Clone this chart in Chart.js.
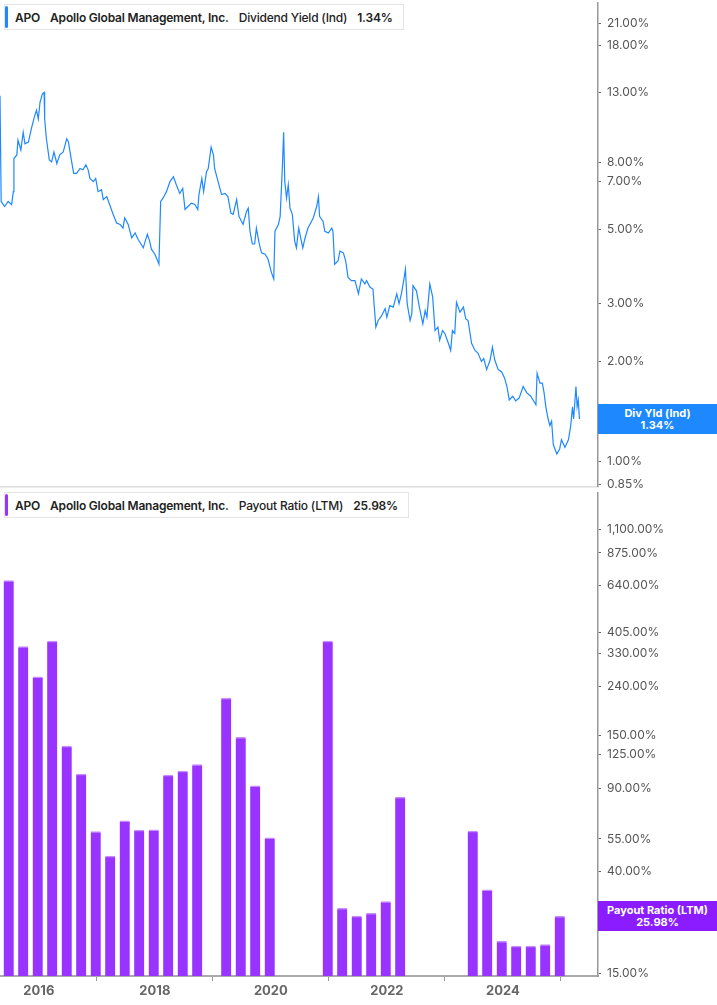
<!DOCTYPE html>
<html>
<head>
<meta charset="utf-8">
<script src="https://cdn.jsdelivr.net/npm/chart.js@4"></script>
<style>
  body { margin: 0; background: #fff; font-family: Inter, "Noto Sans", sans-serif; }
  #wrap { position: relative; width: 717px; height: 1005px; overflow: hidden; }
  .panel { position: absolute; left: 0; width: 717px; }
  .hdr { position: absolute; left: 4px; height: 26px; border: 1px solid #e4e4e4; background: #fff;
         font-size: 12px; font-weight: 600; color: #222; display: flex; align-items: center;
         white-space: nowrap; padding-right: 10px; box-sizing: border-box; z-index: 2; letter-spacing: -0.2px; }
  .hdr .bar { width: 3px; height: 22px; border-radius: 2px; margin: 0 7px 0 0; }
  .hdr span { margin-right: 10px; }
  .tag { position: absolute; left: 598px; width: 119px; color: #fff; font-size: 11px; font-weight: 700;
         text-align: center; line-height: 12px; padding: 3px 0; z-index: 2; }
</style>
</head>
<body>
<div id="wrap">
  <div class="panel" style="top:-10px;height:510px"><canvas id="yieldChart" width="717" height="510"></canvas></div>
  <div class="panel" style="top:480px;height:528px"><canvas id="payoutChart" width="717" height="528"></canvas></div>
  <div class="hdr" style="top:4px"><div class="bar" style="background:#1e88ff"></div>
    <span>APO</span><span>Apollo Global Management, Inc.</span><span style="font-weight:500">Dividend Yield (Ind)</span><span style="margin-right:0">1.34%</span></div>
  <div class="hdr" style="top:492px"><div class="bar" style="background:#9933ff"></div>
    <span>APO</span><span>Apollo Global Management, Inc.</span><span style="font-weight:500">Payout Ratio (LTM)</span><span style="margin-right:0">25.98%</span></div>
  <div class="tag" style="top:404px;background:#1e88ff">Div Yld (Ind)<br>1.34%</div>
  <div class="tag" style="top:901px;background:#8a1cff">Payout Ratio (LTM)<br>25.98%</div>
</div>
<script>
// dividend yield (%), dates as decimal years
const yieldDates = [2015.33,2015.35,2015.41,2015.47,2015.53,2015.56,2015.57,2015.62,2015.64,2015.69,2015.73,2015.76,2015.82,2015.87,2015.93,2015.96,2015.99,
  2016.02,2016.06,2016.09,2016.10,2016.13,2016.18,2016.22,2016.26,2016.31,2016.36,2016.42,2016.48,2016.51,2016.56,2016.60,2016.65,2016.71,2016.76,2016.81,2016.85,2016.88,2016.94,2016.98,
  2017.02,2017.08,2017.11,2017.17,2017.22,2017.28,2017.34,2017.40,2017.45,2017.48,2017.54,2017.60,2017.66,2017.71,2017.80,2017.87,2017.91,2017.94,
  2018.00,2018.06,2018.07,2018.10,2018.14,2018.20,2018.26,2018.32,2018.37,2018.43,2018.48,2018.52,2018.57,2018.63,2018.69,2018.74,2018.76,2018.81,2018.84,2018.89,2018.92,2018.97,
  2019.01,2019.03,2019.09,2019.15,2019.21,2019.26,2019.31,2019.35,2019.41,2019.45,2019.52,2019.58,2019.61,2019.64,2019.68,2019.72,2019.75,2019.80,2019.84,2019.90,2019.95,
  2020.01,2020.05,2020.07,2020.13,2020.16,2020.20,2020.22,2020.24,2020.27,2020.30,2020.33,2020.37,2020.41,2020.44,2020.48,2020.55,2020.59,2020.64,2020.70,2020.73,2020.79,2020.82,2020.84,2020.90,2020.93,2020.99,
  2021.05,2021.07,2021.10,2021.16,2021.19,2021.25,2021.29,2021.33,2021.39,2021.45,2021.51,2021.56,2021.62,2021.65,2021.71,2021.76,2021.81,2021.85,2021.91,2021.97,
  2022.00,2022.05,2022.11,2022.17,2022.21,2022.25,2022.29,2022.32,2022.35,2022.40,2022.43,2022.45,2022.51,2022.56,2022.62,2022.66,2022.69,2022.74,2022.79,2022.83,2022.88,2022.91,2022.96,
  2023.00,2023.06,2023.10,2023.13,2023.17,2023.20,2023.26,2023.32,2023.36,2023.40,2023.46,2023.52,2023.57,2023.63,2023.67,2023.72,2023.78,2023.82,2023.86,2023.92,2023.98,
  2024.03,2024.07,2024.11,2024.17,2024.22,2024.28,2024.35,2024.41,2024.48,2024.52,2024.57,2024.59,2024.64,2024.68,2024.71,2024.74,2024.78,2024.81,2024.84,2024.87,2024.93,2024.98,
  2025.01,2025.07,2025.13,2025.17,2025.20,2025.22,2025.26,2025.28,2025.30,2025.32];
const yieldValues = [12.7,6.09,5.88,6.09,5.96,6.52,8.21,8.42,9.33,8.71,9.86,9.10,9.21,10.09,11.09,11.48,10.81,
  12.13,12.85,13.0,10.81,9.42,8.13,8.02,8.59,7.93,8.42,8.59,9.42,9.21,8.13,7.40,7.40,7.66,7.59,7.86,7.59,7.15,6.99,7.15,
  6.52,6.61,6.17,6.30,5.96,5.57,5.24,5.19,5.06,5.43,5.19,4.73,4.89,4.68,4.41,4.85,4.62,4.37,
  4.22,3.98,3.94,6.09,6.23,6.52,6.99,7.23,6.84,6.44,6.67,5.76,5.88,6.02,5.96,5.76,6.39,7.15,6.52,7.49,7.66,8.89,
  8.42,7.66,6.99,6.39,6.44,6.30,5.62,5.57,6.17,5.49,5.19,5.68,5.81,4.95,4.53,4.53,5.06,4.53,4.26,4.22,4.08,
  3.71,3.55,4.95,5.19,5.49,7.86,9.86,6.99,6.23,6.84,5.81,5.57,4.63,4.41,5.06,4.41,4.73,5.06,5.30,5.43,5.88,6.30,5.49,5.30,4.95,4.89,
  5.06,4.95,3.93,4.03,4.31,4.26,4.03,3.59,3.51,3.51,3.20,3.55,3.43,3.51,3.35,3.31,2.54,2.66,2.75,2.89,
  2.72,2.95,2.92,3.20,2.99,3.20,3.51,3.80,2.99,2.66,2.79,3.39,3.27,2.92,2.60,2.85,2.72,3.43,3.13,2.48,2.54,2.32,2.48,
  2.43,2.27,2.16,2.48,2.43,3.02,2.82,2.92,2.69,2.66,2.27,2.16,2.12,2.00,2.04,1.89,2.02,2.21,2.02,1.89,1.86,
  1.78,1.68,1.53,1.57,1.52,1.55,1.68,1.61,1.57,1.53,1.48,1.84,1.72,1.72,1.61,1.46,1.34,1.28,1.32,1.12,1.05,1.09,
  1.16,1.10,1.16,1.28,1.46,1.34,1.68,1.46,1.53,1.34];
const yieldTicks = [0.85, 1, 2, 3, 5, 7, 8, 13, 18, 21];

// payout ratio LTM (%), quarterly
const payoutDates = [2015.48,2015.73,2015.98,2016.23,2016.48,2016.73,2016.98,2017.23,2017.48,2017.73,2017.98,2018.23,2018.48,2018.73,2018.98,
  2019.23,2019.48,2019.73,2019.98,2020.23,2020.48,2020.73,2020.98,2021.23,2021.48,2021.73,2021.98,2022.23,2022.48,2022.73,2022.98,2023.23,
  2023.48,2023.73,2023.98,2024.23,2024.48,2024.73,2024.98];
const payoutValues = [670,354,264,373,135,103,59,46.6,65.5,59.9,60,102,106,113,null,
  215,147,92,55.6,null,null,null,373,28.1,26.1,26.8,30,82.5,null,null,null,null,
  59.3,33.6,20.4,19.5,19.5,19.8,25.98];
const payoutTicks = [15, 25, 40, 55, 90, 125, 150, 240, 330, 405, 640, 875, 1100];
const yearTicks = [2016, 2018, 2020, 2022, 2024];

const X_MIN = 2015.33, X_MAX = 2025.64;
const tickFont = { family: "Inter, 'Noto Sans', sans-serif", size: 12 };
const fmt = v => Number(v).toLocaleString("en-US", { minimumFractionDigits: 2, maximumFractionDigits: 2 }) + "%";

function yAxis(min, max, ticks) {
  return {
    type: "logarithmic", position: "right", min, max,
    afterBuildTicks: s => { s.ticks = ticks.map(v => ({ value: v })); },
    afterFit: s => { s.width = 119; },
    ticks: { callback: fmt, color: "#555", font: tickFont, padding: 6, autoSkip: false },
    grid: { display: true, drawOnChartArea: false, tickLength: 3, color: "#666" },
    border: { color: "#999", width: 1.5 },
  };
}

new Chart(document.getElementById("yieldChart"), {
  type: "line",
  data: {
    datasets: [{
      data: yieldDates.map((d, i) => ({ x: d, y: yieldValues[i] })),
      borderColor: "#1e88ff", borderWidth: 1.2, pointRadius: 0, tension: 0, fill: false,
    }],
  },
  options: {
    responsive: false, animation: false,
    layout: { padding: 0 },
    plugins: { legend: { display: false }, tooltip: { enabled: false } },
    scales: {
      x: { type: "linear", min: X_MIN, max: X_MAX, ticks: { display: false },
           grid: { display: false }, border: { color: "#ddd", width: 1.5 } },
      y: yAxis(0.836, 24.2, yieldTicks),
    },
  },
});

new Chart(document.getElementById("payoutChart"), {
  type: "bar",
  data: {
    datasets: [{
      data: payoutDates.map((d, i) => ({ x: d, y: payoutValues[i] })),
      backgroundColor: "#9933ff", borderColor: "#c68cff", borderWidth: { top: 1.5 }, barThickness: 10,
    }],
  },
  options: {
    responsive: false, animation: false,
    layout: { padding: { top: 0, bottom: 2 } },
    plugins: { legend: { display: false }, tooltip: { enabled: false } },
    scales: {
      x: { type: "linear", min: X_MIN, max: X_MAX, offset: false,
           afterBuildTicks: s => { s.ticks = yearTicks.map(v => ({ value: v })); },
           afterFit: s => { s.height = 30; },
           ticks: { callback: v => String(v), color: "#666", font: { ...tickFont, size: 13, weight: "bold" }, padding: 2 },
           grid: { display: true, drawOnChartArea: false, tickLength: 5, color: "#999" },
           border: { color: "#aaa", width: 2 } },
      y: yAxis(14.6, 1560, payoutTicks),
    },
  },
});
</script>
</body>
</html>
